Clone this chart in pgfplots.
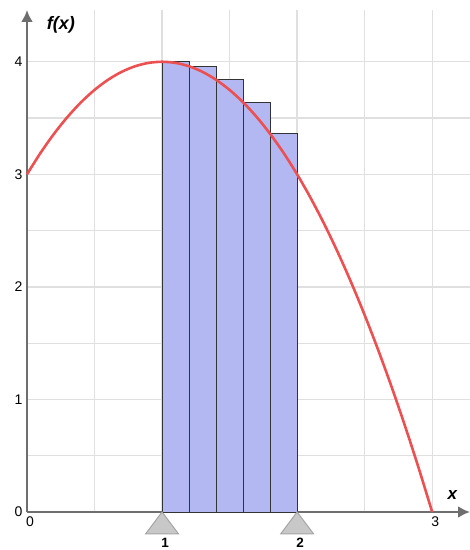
\documentclass[border=0pt]{standalone}
\usepackage{pgfplots}
\pgfplotsset{compat=1.18}
\usetikzlibrary{arrows.meta}
\usepackage{fontspec}
\setmainfont{Liberation Sans}
\definecolor{barfill}{RGB}{180,184,242}
\definecolor{curve}{RGB}{236,80,80}
\definecolor{axgray}{RGB}{110,110,110}
\definecolor{gridc}{RGB}{224,224,224}
\definecolor{trig}{RGB}{200,200,200}
\definecolor{trige}{RGB}{165,165,165}
\begin{document}
\begin{tikzpicture}
\useasboundingbox (-27pt,-38pt) rectangle (443pt,512pt);
\begin{axis}[
  scale only axis,
  width=443pt, height=502pt,
  xmin=0, xmax=3.28, ymin=0, ymax=4.46,
  clip=false,
  axis lines=left,
  axis line style={axgray, line width=2.8pt, -{Latex[length=12pt,width=12pt]}},
  xtick={0,3}, ytick={0,1,2,3,4},
  extra x ticks={1,2},
  extra x tick style={grid=none, tick label style={yshift=-22pt, font=\bfseries\fontsize{13.5}{15}\selectfont}},
  minor xtick={0.5,1,1.5,2,2.5,3},
  minor ytick={0.5,1,1.5,2,2.5,3,3.5,4},
  grid=minor,
  minor grid style={gridc, line width=1.3pt},
  major tick length=0pt, minor tick length=0pt,
  tick label style={font=\fontsize{14}{16}\selectfont, text=black},
  /pgf/number format/assume math mode=true,
  xticklabel style={yshift=-1pt, xshift=3pt},
  yticklabel style={xshift=-1pt},
]
\addplot[ybar interval, fill=barfill, draw=black!80, line width=0.8pt] coordinates {
  (1,4) (1.2,3.96) (1.4,3.84) (1.6,3.64) (1.8,3.36) (2,3.36)
};
\addplot[curve, line width=2.6pt, smooth] coordinates {
  (0,3) (0.1,3.19) (0.2,3.36) (0.3,3.51) (0.4,3.64) (0.5,3.75)
  (0.6,3.84) (0.7,3.91) (0.8,3.96) (0.9,3.99) (1.0,4)
  (1.1,3.99) (1.2,3.96) (1.3,3.91) (1.4,3.84) (1.5,3.75)
  (1.6,3.64) (1.7,3.51) (1.8,3.36) (1.9,3.19) (2.0,3)
  (2.1,2.79) (2.2,2.56) (2.3,2.31) (2.4,2.04) (2.5,1.75)
  (2.6,1.44) (2.7,1.11) (2.8,0.76) (2.9,0.39) (3.0,0)
};
\addplot[only marks, mark=triangle*, mark size=14.5pt,
  mark options={fill=trig, draw=trige, line width=1pt, xscale=1.3, yshift=-14.5pt}]
  coordinates {(1,0) (2,0)};
\node[font=\bfseries\itshape\fontsize{18}{20}\selectfont] at (axis cs:0.25,4.33) {f(x)};
\node[font=\bfseries\itshape\fontsize{17}{19}\selectfont] at (axis cs:3.15,0.15) {x};
\end{axis}
\end{tikzpicture}
\end{document}
